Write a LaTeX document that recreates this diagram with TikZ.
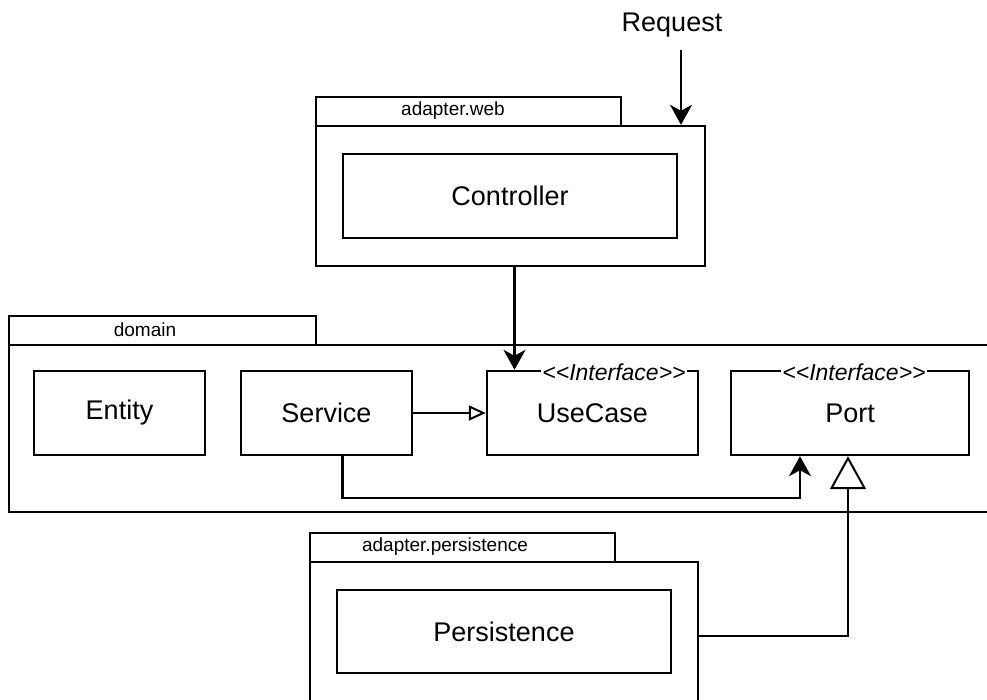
\documentclass[tikz,border=0pt]{standalone}
\usepackage{fontspec}
\setmainfont{Liberation Sans}
\usetikzlibrary{arrows.meta}

\begin{document}
\begin{tikzpicture}[x=1pt,y=-1pt,line width=2.4pt,
  box/.style={draw,rectangle,inner sep=0pt,font=\fontsize{27}{31}\selectfont},
  pkg/.style={draw,rectangle,inner sep=0pt},
  tablabel/.style={inner sep=0pt,font=\fontsize{19}{22}\selectfont},
  stereo/.style={fill=white,inner sep=1pt,font=\fontsize{23}{26}\selectfont\itshape},
  dep/.style={-{Stealth[length=20pt,width=22pt,inset=6pt]}},
  implsmall/.style={-{Triangle[open,length=17pt,width=15pt,line width=2pt]}},
  implbig/.style={-{Triangle[open,length=33pt,width=36pt,line width=2pt]}}]
\useasboundingbox (0,0) rectangle (987,700);
\clip (0,0) rectangle (987,700);

% adapter.web package
\node[pkg,minimum width=305pt,minimum height=29pt] (webtab) at (468.5,111.5) {};
\node[tablabel] (webname) at (453,111) {adapter.web};
\node[pkg,minimum width=389pt,minimum height=140pt] (webbody) at (510.5,196) {};
\node[box,minimum width=334pt,minimum height=84pt] (controller) at (510,196) {Controller};

% incoming request
\node[font=\fontsize{27}{31}\selectfont] (req) at (672,25) {Request};
\coordinate (reqstart) at (681,50);

% domain package
\node[pkg,minimum width=307pt,minimum height=29pt] (domtab) at (162.5,330.5) {};
\node[tablabel] (domname) at (145,330) {domain};
\node[pkg,minimum width=991pt,minimum height=167pt] (dombody) at (504.5,428.5) {};
\node[box,minimum width=171pt,minimum height=84pt] (entity) at (119.5,413) {Entity};
\node[box,minimum width=171pt,minimum height=84pt] (service) at (326.5,413) {Service};
\node[box,minimum width=211pt,minimum height=84pt] (usecase) at (592.5,413) {UseCase};
\node[box,minimum width=238pt,minimum height=84pt] (port) at (850,413) {Port};
\node[stereo] (ucstereo) at (614,372) {<\kern0pt<Interface>\kern0pt>};
\node[stereo] (portstereo) at (854,372) {<\kern0pt<Interface>\kern0pt>};

% adapter.persistence package
\node[pkg,minimum width=305pt,minimum height=29pt] (pertab) at (462.5,547.5) {};
\node[tablabel] (pername) at (445,547) {adapter.persistence};
\node[pkg,minimum width=388pt,minimum height=148pt] (perbody) at (504,636) {};
\node[box,minimum width=334pt,minimum height=83pt] (persistence) at (504,631.5) {Persistence};

% connectors
\draw[dep] (reqstart) -- (reqstart |- webbody.north);
\draw[dep] ([xshift=4pt]webbody.south) -- ([xshift=4pt]webbody.south |- usecase.north);
\draw[implsmall] (service.east) -- (usecase.west);
\draw[dep] ([xshift=16pt]service.south) -- ++(0,42) -| ([xshift=-50pt]port.south);
\draw[implbig] (perbody.east) -| ([xshift=-2pt]port.south);
\end{tikzpicture}
\end{document}
